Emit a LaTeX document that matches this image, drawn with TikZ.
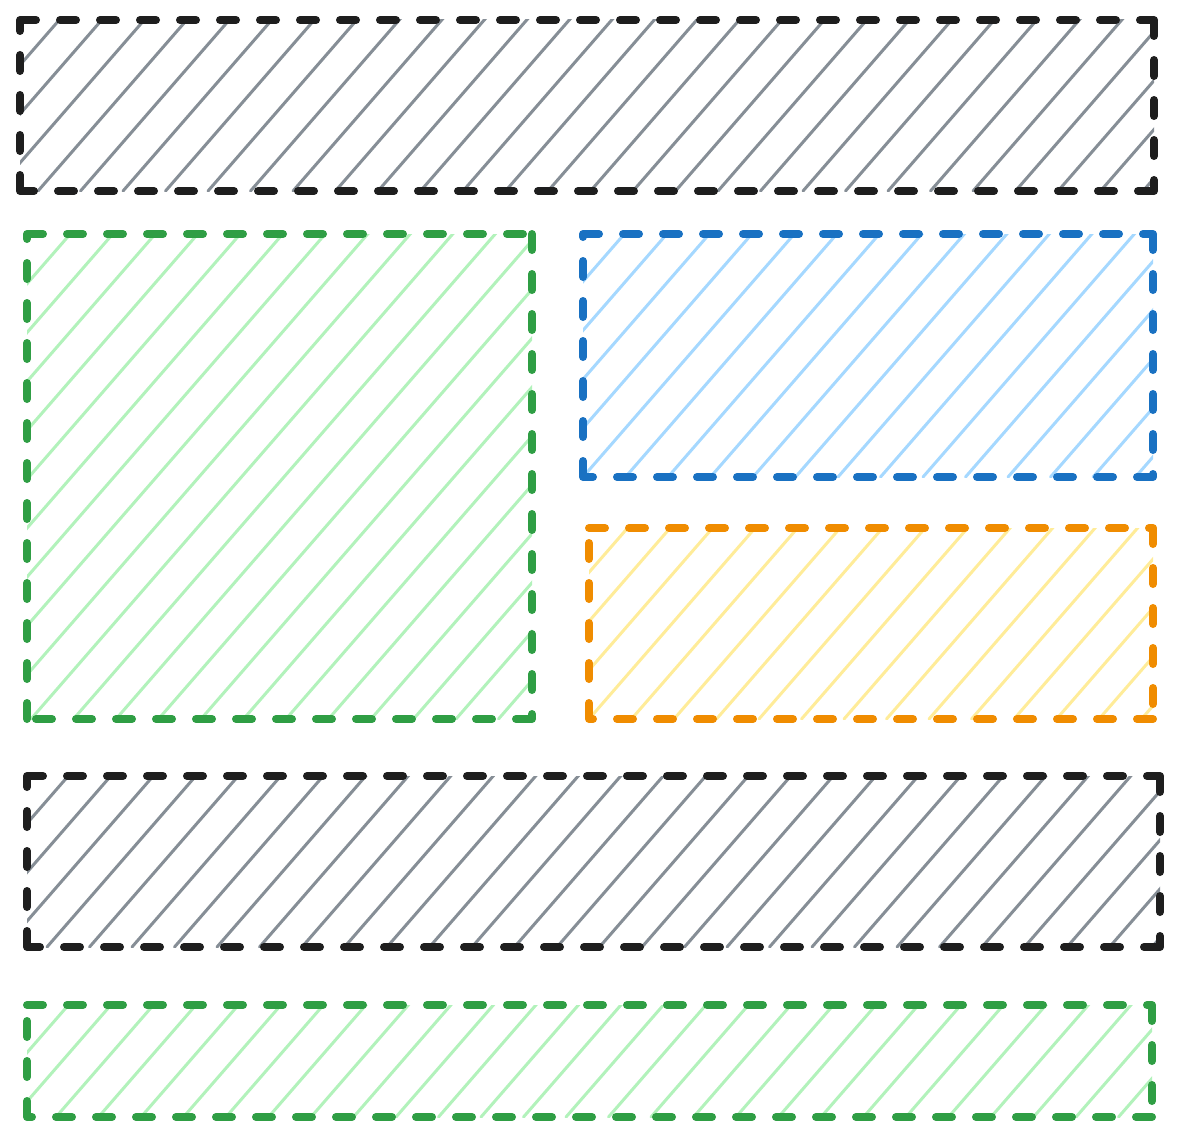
\documentclass[tikz,border=0pt]{standalone}
\usepackage{xcolor}
\definecolor{edgeblack}{HTML}{1E1E1E}
\definecolor{hatchgray}{HTML}{868E96}
\definecolor{edgegreen}{HTML}{2F9E44}
\definecolor{hatchgreen}{HTML}{B2F2BB}
\definecolor{edgeblue}{HTML}{1971C2}
\definecolor{hatchblue}{HTML}{A5D8FF}
\definecolor{edgeorange}{HTML}{F08C00}
\definecolor{hatchorange}{HTML}{FFEC99}

\begin{document}
\begin{tikzpicture}[x=0.75pt,y=0.75pt,yscale=-1,xscale=1,
  boxedge/.style={line width=6pt,line cap=round,line join=round,dash pattern=on 12pt off 18pt},
  hatchline/.style={line width=2.25pt,line cap=round}]
\useasboundingbox (0,0) rectangle (1180,1138);

% Shapes: x1/y1/x2/y2/edge colour/hatch colour/hatch phase
\foreach \xa/\ya/\xb/\yb/\edge/\hatch/\phase in {
    20/20/1154/191/edgeblack/hatchgray/18,     % top band
    27/234/532/719/edgegreen/hatchgreen/4,     % left block
    583/234/1153/477/edgeblue/hatchblue/0,     % right upper block
    589/528/1153/719/edgeorange/hatchorange/0, % right lower block
    27/776/1160/947/edgeblack/hatchgray/20,    % lower band
    27/1005/1152/1117/edgegreen/hatchgreen/29  % bottom band
  }{
  % hatching
  \begin{scope}
    \clip (\xa,\ya) rectangle (\xb,\yb);
    \pgfmathtruncatemacro{\kmin}{-ceil((\yb-\ya)/1.15/42.5)-1}
    \pgfmathtruncatemacro{\kmax}{ceil((\xb-\xa)/42.5)}
    \foreach \k in {\kmin,...,\kmax}
      \draw[hatchline,draw=\hatch] ({\xa+\phase+42.5*\k},\yb) -- ++({(\yb-\ya+10)/1.15},{-(\yb-\ya+10)});
  \end{scope}
  % dashed border, one subpath per side
  \draw[boxedge,draw=\edge] (\xa,\ya) -- (\xb,\ya) (\xb,\ya) -- (\xb,\yb)
                            (\xb,\yb) -- (\xa,\yb) (\xa,\yb) -- (\xa,\ya);
}

\end{tikzpicture}
\end{document}
